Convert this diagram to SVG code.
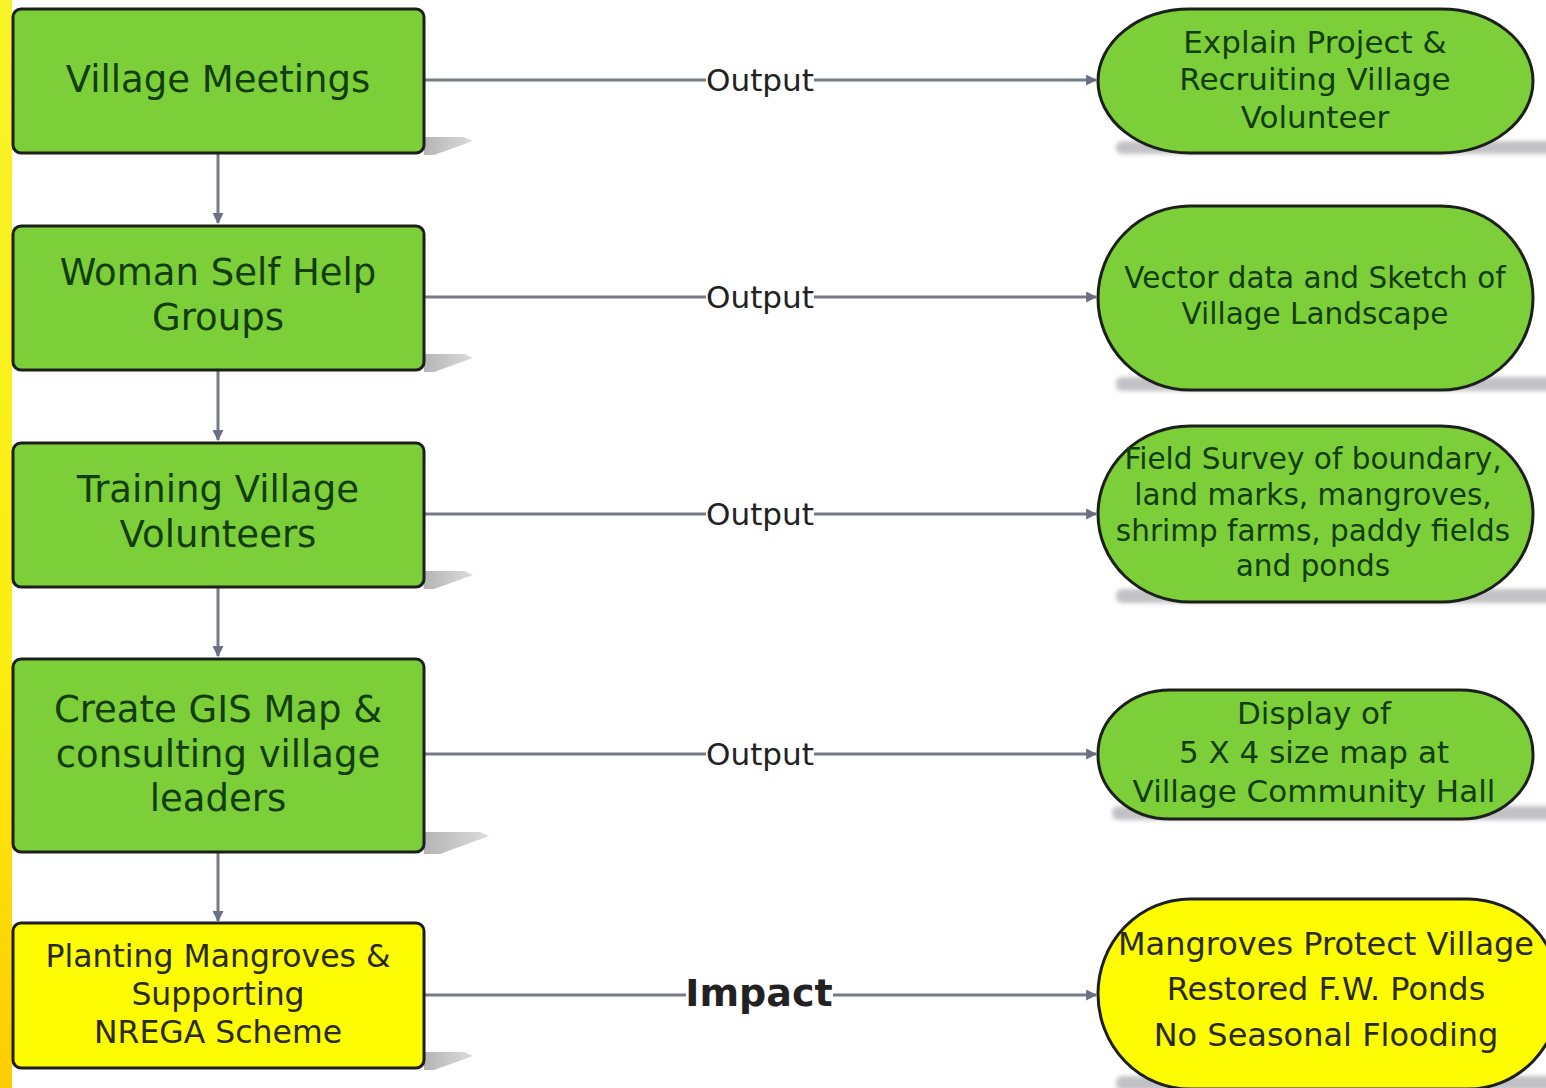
<svg xmlns="http://www.w3.org/2000/svg" width="1546" height="1088" viewBox="0 0 1546 1088">
<defs>
  <linearGradient id="strip" x1="0" y1="0" x2="0" y2="1">
    <stop offset="0" stop-color="#f8f22a"/>
    <stop offset="0.6" stop-color="#fbee10"/>
    <stop offset="1" stop-color="#ffcc00"/>
  </linearGradient>
  <linearGradient id="shL" x1="0" y1="0" x2="1" y2="0">
    <stop offset="0" stop-color="#b4b4b4"/>
    <stop offset="1" stop-color="#dcdcdc"/>
  </linearGradient>
  <filter id="blur" x="-10%" y="-50%" width="120%" height="200%">
    <feGaussianBlur stdDeviation="2"/>
  </filter>
  <marker id="arr" viewBox="0 0 10 10" refX="9" refY="5" markerWidth="11" markerHeight="11" markerUnits="userSpaceOnUse" orient="auto">
    <path d="M0,0 L10,5 L0,10 Z" fill="#6a6f82"/>
  </marker>
</defs>
<style>
  .box { stroke: #1c1f1a; stroke-width: 3; }
  .green { fill: #7ccf38; }
  .yellow { fill: #fdfc03; }
  .t { font-family: "DejaVu Sans", Verdana, sans-serif; text-anchor: middle; }
  .tg { fill: #123d0c; }
  .ty { fill: #2a2a12; }
  .conn { stroke: #767b8a; stroke-width: 3; fill: none; }
  .lbl { font-family: "DejaVu Sans", Verdana, sans-serif; text-anchor: middle; fill: #222; }
  .shp { fill: #c2c2c6; filter: url(#blur); }
  .shl { fill: url(#shL); }
</style>
<rect x="0" y="0" width="1546" height="1088" fill="#ffffff"/>
<rect x="0" y="0" width="12" height="1088" fill="url(#strip)"/>

<g id="connectors">
  <line class="conn" x1="218" y1="154" x2="218" y2="223" marker-end="url(#arr)"/>
  <line class="conn" x1="218" y1="371" x2="218" y2="440" marker-end="url(#arr)"/>
  <line class="conn" x1="218" y1="588" x2="218" y2="656" marker-end="url(#arr)"/>
  <line class="conn" x1="218" y1="853" x2="218" y2="921" marker-end="url(#arr)"/>
  <line class="conn" x1="424" y1="80" x2="706" y2="80"/>
  <line class="conn" x1="814" y1="80" x2="1096" y2="80" marker-end="url(#arr)"/>
  <line class="conn" x1="424" y1="297" x2="706" y2="297"/>
  <line class="conn" x1="814" y1="297" x2="1096" y2="297" marker-end="url(#arr)"/>
  <line class="conn" x1="424" y1="514" x2="706" y2="514"/>
  <line class="conn" x1="814" y1="514" x2="1096" y2="514" marker-end="url(#arr)"/>
  <line class="conn" x1="424" y1="754" x2="706" y2="754"/>
  <line class="conn" x1="814" y1="754" x2="1096" y2="754" marker-end="url(#arr)"/>
  <line class="conn" x1="424" y1="995" x2="686" y2="995"/>
  <line class="conn" x1="833" y1="995" x2="1096" y2="995" marker-end="url(#arr)"/>
  <text class="lbl" x="760" y="91" font-size="30" textLength="108" lengthAdjust="spacingAndGlyphs">Output</text>
  <text class="lbl" x="760" y="308" font-size="30" textLength="108" lengthAdjust="spacingAndGlyphs">Output</text>
  <text class="lbl" x="760" y="525" font-size="30" textLength="108" lengthAdjust="spacingAndGlyphs">Output</text>
  <text class="lbl" x="760" y="765" font-size="30" textLength="108" lengthAdjust="spacingAndGlyphs">Output</text>
  <text class="lbl" x="759" y="1006" font-size="38" font-weight="bold" fill="#111">Impact</text>
</g>

<g id="n1">
  <polygon class="shl" points="424,137 464,137 473,141 434,155 424,155"/>
  <rect class="box green" x="13" y="9" width="411" height="144" rx="8"/>
  <text class="t tg" x="218" y="92" font-size="37">Village Meetings</text>
</g>
<g id="n2">
  <polygon class="shl" points="424,354 464,354 473,358 434,372 424,372"/>
  <rect class="box green" x="13" y="226" width="411" height="144" rx="8"/>
  <text class="t tg" x="218" y="285" font-size="37">Woman Self Help</text>
  <text class="t tg" x="218" y="330" font-size="37">Groups</text>
</g>
<g id="n3">
  <polygon class="shl" points="424,571 464,571 473,575 434,589 424,589"/>
  <rect class="box green" x="13" y="443" width="411" height="144" rx="8"/>
  <text class="t tg" x="218" y="502" font-size="37">Training Village</text>
  <text class="t tg" x="218" y="547" font-size="37">Volunteers</text>
</g>
<g id="n4">
  <polygon class="shl" points="424,832 480,832 489,836 440,854 424,854"/>
  <rect class="box green" x="13" y="659" width="411" height="193" rx="8"/>
  <text class="t tg" x="218" y="722" font-size="37">Create GIS Map &amp;</text>
  <text class="t tg" x="218" y="767" font-size="37">consulting village</text>
  <text class="t tg" x="218" y="811" font-size="37">leaders</text>
</g>
<g id="n5">
  <polygon class="shl" points="424,1052 464,1052 473,1056 434,1070 424,1070"/>
  <rect class="box yellow" x="13" y="923" width="411" height="145" rx="8"/>
  <text class="t ty" x="218" y="967" font-size="31.5">Planting Mangroves &amp;</text>
  <text class="t ty" x="218" y="1005" font-size="31.5">Supporting</text>
  <text class="t ty" x="218" y="1043" font-size="31.5">NREGA Scheme</text>
</g>

<g id="o1">
  <rect class="shp" x="1116" y="141" width="440" height="13" rx="6"/>
  <rect class="box green" x="1098" y="9" width="435" height="144" rx="92" ry="72"/>
  <text class="t tg" x="1315" y="53" font-size="31">Explain Project &amp;</text>
  <text class="t tg" x="1315" y="90" font-size="31">Recruiting Village</text>
  <text class="t tg" x="1315" y="128" font-size="31">Volunteer</text>
</g>
<g id="o2">
  <rect class="shp" x="1116" y="377" width="440" height="14" rx="6"/>
  <rect class="box green" x="1098" y="206" width="435" height="184" rx="92" ry="92"/>
  <text class="t tg" x="1315" y="288" font-size="29.5">Vector data and Sketch of</text>
  <text class="t tg" x="1315" y="324" font-size="29.5">Village Landscape</text>
</g>
<g id="o3">
  <rect class="shp" x="1116" y="589" width="440" height="14" rx="6"/>
  <rect class="box green" x="1098" y="426" width="435" height="176" rx="92" ry="88"/>
  <text class="t tg" x="1313" y="469" font-size="29.5">Field Survey of boundary,</text>
  <text class="t tg" x="1313" y="505" font-size="29.5">land marks, mangroves,</text>
  <text class="t tg" x="1313" y="541" font-size="29.5">shrimp farms, paddy fields</text>
  <text class="t tg" x="1313" y="576" font-size="29.5">and ponds</text>
</g>
<g id="o4">
  <rect class="shp" x="1112" y="806" width="444" height="14" rx="6"/>
  <rect class="box green" x="1098" y="690" width="435" height="129" rx="72" ry="64"/>
  <text class="t tg" x="1314" y="724" font-size="31">Display of</text>
  <text class="t tg" x="1314" y="763" font-size="31">5 X 4 size map at</text>
  <text class="t tg" x="1314" y="802" font-size="31">Village Community Hall</text>
</g>
<g id="o5">
  <rect class="shp" x="1116" y="1076" width="440" height="14" rx="6"/>
  <rect class="box yellow" x="1098" y="899" width="462" height="190" rx="92" ry="95"/>
  <text class="t ty" x="1326" y="955" font-size="32">Mangroves Protect Village</text>
  <text class="t ty" x="1326" y="1000" font-size="32">Restored F.W. Ponds</text>
  <text class="t ty" x="1326" y="1046" font-size="32">No Seasonal Flooding</text>
</g>
</svg>
